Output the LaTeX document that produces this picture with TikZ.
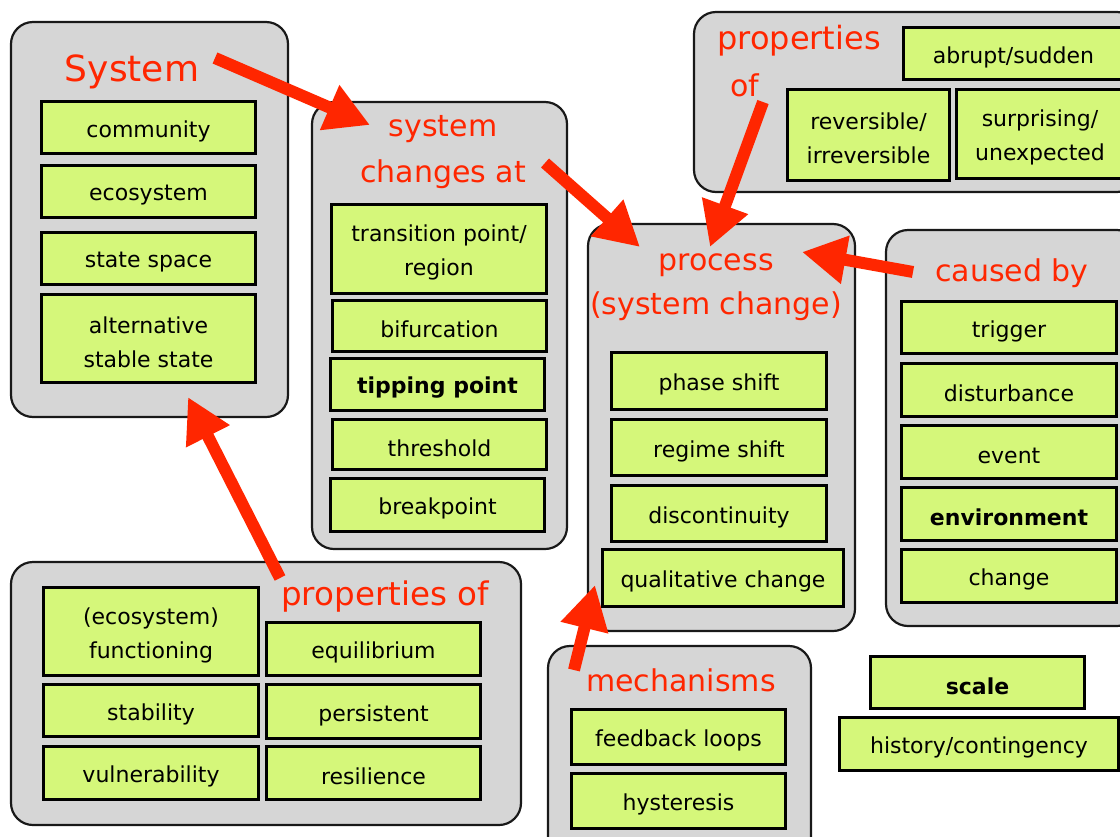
\documentclass[tikz,border=0pt]{standalone}
\usepackage{fontspec}
\setmainfont{DejaVu Sans}
\usetikzlibrary{arrows.meta}
\definecolor{grayc}{RGB}{214,214,214}
\definecolor{greenc}{RGB}{213,247,122}
\definecolor{redc}{RGB}{255,38,0}
\newcommand\gbx[6]{\node[gbox,minimum width={#4-#2-3},minimum height={#5-#3-3},
  label={[gtxt]center:{#6}}] (#1) at ({(#2+#4)/2},{(#3+#5)/2}) {};}
\newcommand\grpx[5]{\node[grp,minimum width={#4-#2-2},minimum height={#5-#3-2}] (#1) at ({(#2+#4)/2},{(#3+#5)/2}) {};}
\begin{document}
\begin{tikzpicture}[x=1pt,y=-1pt,
  grp/.style={draw=black!90,line width=2.2pt,fill=grayc,rounded corners=22pt,inner sep=0pt},
  gbox/.style={draw=black,line width=3.5pt,fill=greenc,inner sep=0pt},
  gtxt/.style={align=center,inner sep=0pt,yshift=-3.5pt,font=\fontsize{22}{34}\selectfont},
  ttl/.style={text=redc,align=center,inner sep=0pt,font=\fontsize{30}{46}\selectfont},
  redarrow/.style={draw=redc,line width=12pt,-{Triangle[length=44pt,width=46pt]}}]
\useasboundingbox (0,0) rectangle (1120,836);
\clip (0,0) rectangle (1120,836);
% groups
\grpx{sys}{10}{21}{289}{418}
\grpx{sca}{311}{101}{568}{550}
\grpx{ptop}{693}{11}{1140}{193}
\grpx{proc}{587}{223}{856}{632}
\grpx{caus}{885}{229}{1140}{627}
\grpx{pbot}{10}{561}{522}{826}
\grpx{mech}{547}{645}{812}{860}
% titles
\node[ttl,font=\fontsize{36}{46}\selectfont] (systitle) at (132,72) {System};
\node[ttl] (sctitle) at (443,152) {system\\changes at};
\node[ttl,font=\fontsize{32}{46}\selectfont] (ptop1) at (799,41) {properties};
\node[ttl] (ptop2) at (745,85) {of};
\node[ttl,font=\fontsize{30}{44}\selectfont] (proctitle) at (716,287) {process\\(system change)};
\node[ttl] (caustitle) at (1012,273) {caused by};
\node[ttl,font=\fontsize{32.5}{46}\selectfont] (pbottitle) at (385,597) {properties of};
\node[ttl] (mechtitle) at (681,680) {mechanisms};
% system
\gbx{community}{40}{100}{257}{155}{community}
\gbx{ecosystem}{40}{164}{257}{219}{ecosystem}
\gbx{statespace}{40}{231}{257}{286}{state space}
\gbx{altstable}{40}{293}{257}{384}{alternative\\stable state}
% system changes at
\gbx{transition}{330}{203}{548}{295}{transition point/\\region}
\gbx{bifurcation}{331}{299}{548}{353}{bifurcation}
\gbx{tipping}{329}{357}{546}{412}{\bfseries tipping point}
\gbx{threshold}{331}{418}{548}{471}{threshold}
\gbx{breakpoint}{329}{477}{546}{533}{breakpoint}
% properties of (top)
\gbx{abrupt}{902}{26}{1125}{81}{abrupt/sudden}
\gbx{reversible}{786}{88}{951}{182}{reversible/\\irreversible}
\gbx{surprising}{955}{88}{1125}{180}{surprising/\\unexpected}
% process
\gbx{phase}{610}{351}{828}{411}{phase shift}
\gbx{regime}{610}{418}{828}{477}{regime shift}
\gbx{discont}{610}{484}{828}{543}{discontinuity}
\gbx{qual}{601}{548}{845}{608}{qualitative change}
% caused by
\gbx{trigger}{900}{300}{1118}{355}{trigger}
\gbx{disturbance}{900}{362}{1118}{418}{disturbance}
\gbx{event}{900}{424}{1118}{480}{event}
\gbx{environment}{900}{486}{1118}{542}{\bfseries environment}
\gbx{change}{900}{548}{1118}{604}{change}
% properties of (bottom)
\gbx{functioning}{42}{586}{260}{677}{(ecosystem)\\functioning}
\gbx{equilibrium}{265}{621}{482}{677}{equilibrium}
\gbx{stability}{42}{683}{260}{738}{stability}
\gbx{persistent}{265}{683}{482}{740}{persistent}
\gbx{vulnerability}{42}{745}{260}{801}{vulnerability}
\gbx{resilience}{265}{745}{482}{801}{resilience}
% mechanisms
\gbx{feedback}{570}{708}{787}{766}{feedback loops}
\gbx{hysteresis}{570}{772}{787}{830}{hysteresis}
% standalone
\gbx{scale}{869}{655}{1086}{710}{\bfseries scale}
\gbx{history}{838}{716}{1120}{772}{history/contingency}
% arrows
\draw[redarrow] ([shift={(83,-14)}]systitle.center) -- ([shift={(-73,-27)}]sctitle.center);
\draw[redarrow] ([shift={(102,11)}]sctitle.center) -- ([shift={(-76,-40)}]proctitle.center);
\draw[redarrow] ([shift={(18,17)}]ptop2.center) -- ([shift={(-6,-40)}]proctitle.center);
\draw[redarrow] ([shift={(-99,-1)}]caustitle.center) -- ([shift={(86,-35)}]proctitle.center);
\draw[redarrow] ([shift={(-105,-19)}]pbottitle.center) -- ([shift={(38.5,-21)}]sys.south);
\draw[redarrow] ([shift={(-107,-10)}]mechtitle.center) -- ([shift={(-128,7)}]qual.center);
\end{tikzpicture}
\end{document}
